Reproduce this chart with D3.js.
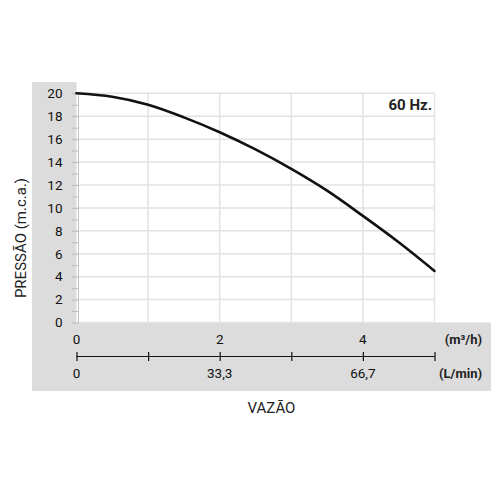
<!DOCTYPE html>
<html>
<head>
<meta charset="utf-8">
<script src="https://cdn.jsdelivr.net/npm/d3@7"></script>
<style>
  body { margin: 0; background: #fff; }
  svg { font-family: Roboto, "Noto Sans", sans-serif; }
</style>
</head>
<body>
<div id="graph"></div>
<script>
// curve
var flowM3h  = [0, 0.5, 1, 1.5, 2, 2.5, 3, 3.5, 4, 4.5, 5];
var pressure = [20, 19.7, 19.0, 17.9, 16.6, 15.1, 13.4, 11.5, 9.3, 7.0, 4.5];

var yTicks = [0, 2, 4, 6, 8, 10, 12, 14, 16, 18, 20];
var yMinorTicks = d3.range(0, 21, 1);
var xGridTicks = [1, 2, 3, 4, 5];
var xAxisTicks = [0, 1, 2, 3, 4, 5];
var m3hTicks = [0, 2, 4];
var m3hLabels = ["0", "2", "4"];
var lminLabels = ["0", "33,3", "66,7"];

var width = 500, height = 500;

var x = d3.scaleLinear().domain([0, 5]).range([76.5, 434.5]);
var y = d3.scaleLinear().domain([0, 20]).range([322.5, 93.3]);

var svg = d3.select("#graph")
    .append("svg")
    .attr("width", width)
    .attr("height", height);

// grey L-shaped panel
var grey = "#dcdcdc";
svg.append("rect")
    .attr("x", 32).attr("y", 82)
    .attr("width", x(0) - 32).attr("height", 391 - 82)
    .attr("fill", grey);
svg.append("rect")
    .attr("x", 32).attr("y", y(0))
    .attr("width", 491 - 32).attr("height", 391 - y(0))
    .attr("fill", grey);

// grid
svg.append("g")
    .selectAll("line.h")
    .data(yTicks)
    .enter()
    .append("line")
    .attr("x1", x(0)).attr("x2", x(5))
    .attr("y1", function(d) { return y(d); })
    .attr("y2", function(d) { return y(d); })
    .attr("stroke", "#e2e2e2")
    .attr("stroke-width", 1.5);

svg.append("g")
    .selectAll("line.v")
    .data(xGridTicks)
    .enter()
    .append("line")
    .attr("x1", function(d) { return x(d); })
    .attr("x2", function(d) { return x(d); })
    .attr("y1", y(20)).attr("y2", y(0))
    .attr("stroke", "#e2e2e2")
    .attr("stroke-width", 1.5);

// left minor ticks
var minorAxis = svg.append("g")
    .attr("transform", "translate(" + (x(0) + 1.5) + ",0)")
    .call(d3.axisLeft(y).tickValues(yMinorTicks).tickSize(6).tickSizeOuter(0).tickFormat(""));
minorAxis.select(".domain").attr("stroke", "#c4c4c4");
minorAxis.selectAll(".tick line").attr("stroke", "#bdbdbd");

// left labels
var yLabelAxis = svg.append("g")
    .attr("transform", "translate(" + x(0) + ",0)")
    .call(d3.axisLeft(y).tickValues(yTicks).tickSize(0).tickPadding(14));
yLabelAxis.select(".domain").remove();
yLabelAxis.selectAll("text")
    .attr("font-family", "Roboto")
    .attr("font-size", 13.5)
    .attr("fill", "#111");

// curve
var line = d3.line()
    .x(function(d, i) { return x(flowM3h[i]); })
    .y(function(d) { return y(d); })
    .curve(d3.curveCatmullRom);

svg.append("path")
    .datum(pressure)
    .attr("d", line)
    .attr("fill", "none")
    .attr("stroke", "#111")
    .attr("stroke-width", 2.6)
    .attr("stroke-linecap", "round");

svg.append("text")
    .attr("x", 432).attr("y", 109.5)
    .attr("text-anchor", "end")
    .attr("font-size", 15)
    .attr("font-weight", "bold")
    .attr("fill", "#222")
    .text("60 Hz.");

// bottom flow axis
var flowAxis = svg.append("g")
    .attr("transform", "translate(0,352)")
    .call(d3.axisBottom(x).tickValues(xAxisTicks).tickSize(9).tickSizeOuter(0).tickFormat(""));
flowAxis.select(".domain").remove();
flowAxis.selectAll(".tick line").attr("stroke", "#111").attr("stroke-width", 1.2);
flowAxis.append("line")
    .attr("x1", x(0)).attr("x2", x(5))
    .attr("y1", 4.5).attr("y2", 4.5)
    .attr("stroke", "#111")
    .attr("stroke-width", 1.2);

svg.append("g")
    .selectAll("text")
    .data(m3hTicks)
    .enter()
    .append("text")
    .attr("x", function(d) { return x(d); })
    .attr("y", 344)
    .attr("text-anchor", "middle")
    .attr("font-size", 13.5)
    .attr("fill", "#111")
    .text(function(d, i) { return m3hLabels[i]; });

svg.append("g")
    .selectAll("text")
    .data(m3hTicks)
    .enter()
    .append("text")
    .attr("x", function(d) { return x(d); })
    .attr("y", 378)
    .attr("text-anchor", "middle")
    .attr("font-size", 13.5)
    .attr("fill", "#111")
    .text(function(d, i) { return lminLabels[i]; });

svg.append("text")
    .attr("x", 482).attr("y", 344)
    .attr("text-anchor", "end")
    .attr("font-size", 13)
    .attr("font-weight", "bold")
    .attr("fill", "#222")
    .text("(m³/h)");

svg.append("text")
    .attr("x", 482).attr("y", 378)
    .attr("text-anchor", "end")
    .attr("font-size", 13)
    .attr("font-weight", "bold")
    .attr("fill", "#222")
    .text("(L/min)");

// titles
svg.append("text")
    .attr("x", 271.5).attr("y", 413)
    .attr("text-anchor", "middle")
    .attr("font-size", 15)
    .attr("fill", "#222")
    .text("VAZÃO");

svg.append("text")
    .attr("transform", "translate(25.5,238) rotate(-90)")
    .attr("text-anchor", "middle")
    .attr("font-size", 15)
    .attr("fill", "#222")
    .text("PRESSÃO (m.c.a.)");
</script>
</body>
</html>
